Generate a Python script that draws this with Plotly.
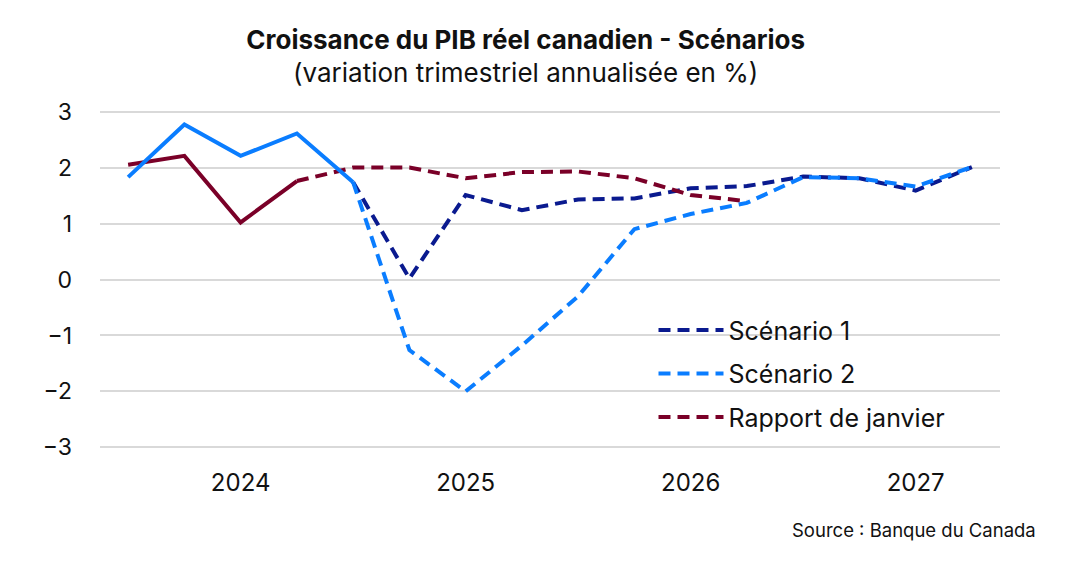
import plotly.graph_objects as go

# ---- data ----
quarters = ["2024T1", "2024T2", "2024T3", "2024T4",
            "2025T1", "2025T2", "2025T3", "2025T4",
            "2026T1", "2026T2", "2026T3", "2026T4",
            "2027T1", "2027T2", "2027T3", "2027T4"]
year_labels = ["2024", "2025", "2026", "2027"]
year_label_pos = [2, 6, 10, 14]          # label under the 3rd quarter of each year
year_bounds = [-0.5, 3.5, 7.5, 11.5, 15.5]

hist_scen2 = [1.83, 2.77, 2.21, 2.61, 1.74]          # 2024T1-2025T1 (solid)
hist_jan = [2.05, 2.21, 1.02, 1.76]                   # 2024T1-2024T4 (solid)
scen1 = [1.74, 0.02, 1.51, 1.24, 1.43, 1.45, 1.63, 1.67, 1.84, 1.81, 1.59, 2.01]   # 2025T1-2027T4
scen2 = [1.74, -1.26, -2.0, -1.18, -0.3, 0.9, 1.17, 1.37, 1.83, 1.81, 1.66, 2.01]  # 2025T1-2027T4
jan = [1.76, 2.0, 2.0, 1.81, 1.92, 1.93, 1.81, 1.51, 1.40]                           # 2024T4-2026T4

x_all = list(range(len(quarters)))
x_hist_s2 = x_all[0:5]
x_hist_jan = x_all[0:4]
x_scen = x_all[4:16]
x_jan = x_all[3:12]

NAVY = "#0A1A8F"
BLUE = "#0A7DFF"
RED = "#7A0028"
GRID = "#D9D9D9"
FONT = "Inter"
DASH = "12px,7px"

fig = go.Figure()

fig.add_trace(go.Scatter(x=x_scen, y=scen1, mode="lines", name="Scénario 1",
                         line=dict(color=NAVY, width=4, dash=DASH),
                         legendgroup="g1", legendrank=1))
fig.add_trace(go.Scatter(x=x_hist_jan, y=hist_jan, mode="lines", showlegend=False,
                         line=dict(color=RED, width=4), legendgroup="g3"))
fig.add_trace(go.Scatter(x=x_jan, y=jan, mode="lines", name="Rapport de janvier",
                         line=dict(color=RED, width=4, dash=DASH),
                         legendgroup="g3", legendrank=3))
fig.add_trace(go.Scatter(x=x_hist_s2, y=hist_scen2, mode="lines", showlegend=False,
                         line=dict(color=BLUE, width=4), legendgroup="g2"))
fig.add_trace(go.Scatter(x=x_scen, y=scen2, mode="lines", name="Scénario 2",
                         line=dict(color=BLUE, width=4, dash=DASH),
                         legendgroup="g2", legendrank=2))

fig.update_layout(
    width=1073, height=561,
    margin=dict(l=100, r=73, t=110, b=112),
    paper_bgcolor="white", plot_bgcolor="white",
    font=dict(family=FONT, color="#111111", size=24),
    title=dict(
        text="<b>Croissance du PIB réel canadien - Scénarios</b>",
        x=0.473, xanchor="center", xref="paper",
        y=0.929, yanchor="middle", yref="container",
        font=dict(family=FONT, size=26, color="#111111"),
    ),
    xaxis=dict(
        range=[-0.5, 15.5],
        tickmode="array", tickvals=year_label_pos, ticktext=year_labels,
        showgrid=False, zeroline=False, showline=False, ticks="",
        tickfont=dict(size=24), ticklabelstandoff=17,
    ),
    xaxis2=dict(
        overlaying="x", matches="x", anchor="free", position=0.5,
        tickmode="array", tickvals=year_bounds, ticks="outside",
        ticklen=9, tickwidth=2, tickcolor=GRID,
        showticklabels=False, showgrid=False, zeroline=False, showline=False,
    ),
    xaxis3=dict(
        overlaying="x", matches="x", anchor="free", position=0.5,
        tickmode="array", tickvals=year_bounds, ticks="inside",
        ticklen=9, tickwidth=2, tickcolor=GRID,
        showticklabels=False, showgrid=False, zeroline=False, showline=False,
    ),
    yaxis=dict(
        range=[-3.03, 3.03], tickvals=[-3, -2, -1, 0, 1, 2, 3],
        showgrid=True, gridcolor=GRID, gridwidth=2,
        zeroline=True, zerolinecolor=GRID, zerolinewidth=2,
        showline=False, ticks="", ticklabelstandoff=27,
        tickfont=dict(size=23),
    ),
    legend=dict(
        x=0.615, y=0.418, xanchor="left", yanchor="top",
        bgcolor="rgba(0,0,0,0)", font=dict(size=25),
        tracegroupgap=8, itemwidth=65, traceorder="grouped",
    ),
    showlegend=True,
    annotations=[
        dict(text="(variation trimestriel annualisée en %)", xref="paper", yref="paper",
             x=0.473, y=1.112, xanchor="center", yanchor="middle",
             showarrow=False, font=dict(size=26, color="#111111")),
        dict(text="Source : Banque du Canada", xref="paper", yref="paper",
             x=1.042, y=-0.24, xanchor="right", yanchor="middle",
             showarrow=False, font=dict(size=18.5, color="#111111")),
    ],
)

fig.write_html("out.html", config={"displayModeBar": False},
               post_script="document.body.style.margin='0';")
